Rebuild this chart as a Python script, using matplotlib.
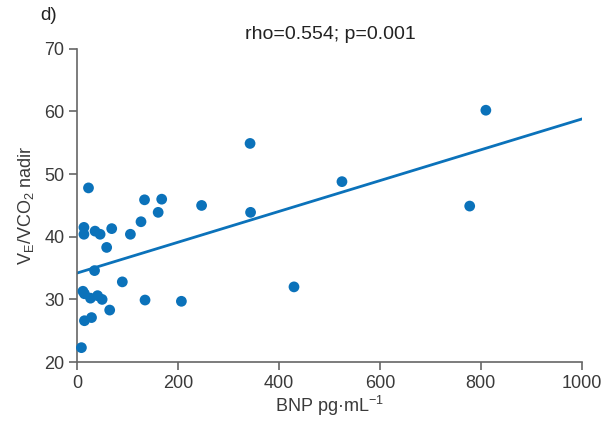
import matplotlib
matplotlib.use("Agg")
import matplotlib.pyplot as plt
import numpy as np

# BNP (pg/mL) vs VE/VCO2 nadir
bnp = [23, 14, 14, 36, 46, 69, 59, 106, 127, 134, 168, 161, 247, 344,
       35, 90, 12, 15, 27, 41, 50, 65, 135, 207, 15, 29, 9,
       343, 525, 810, 778, 430]
ve_vco2 = [47.8, 41.5, 40.4, 40.9, 40.4, 41.3, 38.3, 40.4, 42.4, 45.9, 46.0, 43.9, 45.0, 43.9,
           34.6, 32.8, 31.3, 30.9, 30.2, 30.6, 30.0, 28.3, 29.9, 29.7, 26.6, 27.1, 22.3,
           54.9, 48.8, 60.2, 44.9, 32.0]

# regression line end points (as drawn)
fit_x = [0, 1000]
fit_y = [34.2, 58.8]

title_text = "rho=0.554; p=0.001"
xticks = [0, 200, 400, 600, 800, 1000]
yticks = [20, 30, 40, 50, 60, 70]

plt.rcParams['font.family'] = ['Liberation Sans', 'DejaVu Sans']
plt.rcParams['mathtext.fontset'] = 'custom'
plt.rcParams['mathtext.rm'] = 'Liberation Sans'
plt.rcParams['mathtext.it'] = 'Liberation Sans'

blue = '#0b72ba'
grey = '#3a3a3a'

fig = plt.figure(figsize=(6.15, 4.21), dpi=100)
ax = fig.add_axes([0.125, 0.140, 0.821, 0.744])

ax.plot(fit_x, fit_y, color=blue, lw=2, zorder=2)
ax.scatter(bnp, ve_vco2, s=60, color=blue, edgecolors='none', zorder=3, clip_on=False)

ax.set_xlim(0, 1000)
ax.set_ylim(20, 70)
ax.set_xticks(xticks)
ax.set_yticks(yticks)

for side in ['top', 'right']:
    ax.spines[side].set_visible(False)
for side in ['left', 'bottom']:
    ax.spines[side].set_color('#666666')
    ax.spines[side].set_linewidth(1.2)
ax.tick_params(direction='out', length=6, width=1.2, color='#666666',
               labelsize=13, labelcolor=grey, pad=3)

ax.set_xlabel("BNP pg\u00b7mL$^{-1}$", fontsize=13, color=grey, labelpad=2)
ax.set_ylabel("V$_\\mathrm{E}$/VCO$_2$ nadir", fontsize=13, color=grey, labelpad=6)

fig.text(0.537, 0.917, title_text, fontsize=14, color='#222222', ha='center', va='center')
fig.text(0.066, 0.962, "d)", fontsize=13.5, color='#222222', ha='left', va='center')

fig.savefig("out.png", dpi=100)
